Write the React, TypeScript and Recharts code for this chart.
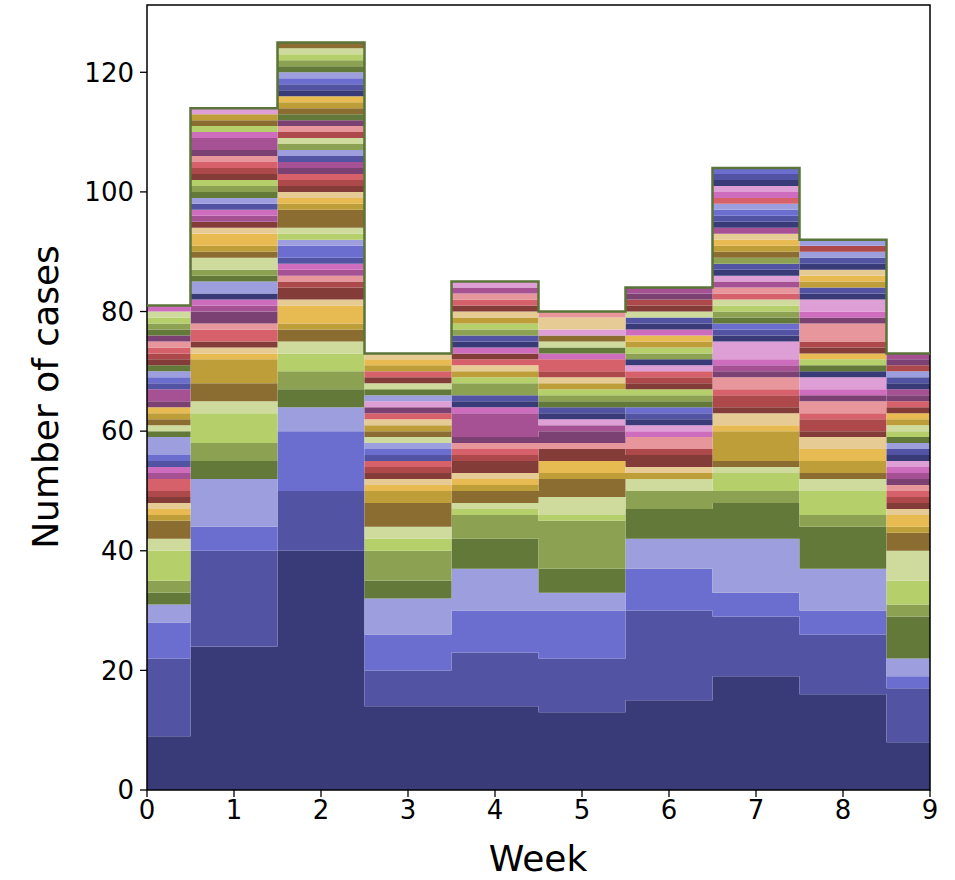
import React from "react";
import { ComposedChart, Area, Line, XAxis, YAxis, ReferenceArea } from "recharts";

// matplotlib tab20b, cycled over the stacked groups
const TAB20B = [
  "#393b79", "#5254a3", "#6b6ecf", "#9c9ede",
  "#637939", "#8ca252", "#b5cf6b", "#cedb9c",
  "#8c6d31", "#bd9e39", "#e7ba52", "#e7cb94",
  "#843c39", "#ad494a", "#d6616b", "#e7969c",
  "#7b4173", "#a55194", "#ce6dbd", "#de9ed6",
];

const WEEKS = [0, 1, 2, 3, 4, 5, 6, 7, 8, 9];
const Y_TICKS = [0, 20, 40, 60, 80, 100, 120];

// [group, cases] for each week, bottom to top
const week0: [number, number][] = [
  [0, 9], [1, 13], [2, 6], [3, 3], [4, 2], [5, 2], [6, 5], [7, 2], [8, 3], [9, 1],
  [10, 1], [11, 1], [12, 1], [13, 1], [14, 2], [17, 1], [18, 1], [21, 1], [22, 1], [23, 3],
  [24, 1], [27, 1], [28, 1], [29, 1], [30, 1], [36, 1], [37, 2], [41, 1], [42, 1], [43, 1],
  [44, 1], [52, 1], [53, 1], [54, 1], [55, 1], [56, 1], [64, 1], [65, 1], [66, 1], [67, 1],
  [78, 1],
];
const week1: [number, number][] = [
  [0, 24], [1, 16], [2, 4], [3, 8], [4, 3], [5, 3], [6, 5], [7, 2], [8, 3], [9, 4],
  [10, 1], [11, 1], [12, 1], [14, 2], [15, 1], [16, 2], [17, 1], [18, 1], [20, 1], [23, 2],
  [24, 1], [25, 1], [27, 2], [28, 1], [29, 1], [30, 2], [31, 1], [32, 1], [37, 1], [38, 1],
  [41, 1], [43, 1], [44, 1], [45, 1], [46, 1], [52, 1], [53, 1], [54, 1], [55, 1], [56, 1],
  [57, 2], [58, 1], [66, 1], [68, 1], [69, 1], [79, 1],
];
const week2: [number, number][] = [
  [0, 40], [1, 10], [2, 10], [3, 4], [4, 3], [5, 3], [6, 3], [7, 2], [8, 2], [9, 1],
  [10, 3], [11, 1], [12, 2], [13, 1], [15, 1], [17, 1], [18, 1], [21, 1], [22, 2], [23, 1],
  [26, 1], [27, 1], [28, 3], [29, 1], [30, 1], [31, 1], [32, 1], [33, 1], [34, 1], [36, 1],
  [37, 1], [41, 1], [43, 1], [45, 1], [47, 1], [53, 1], [55, 1], [56, 1], [64, 1], [68, 1],
  [69, 1], [70, 1], [80, 1], [81, 1], [82, 1], [83, 1], [84, 1], [85, 1], [86, 1], [87, 1],
  [88, 1],
];
const week3: [number, number][] = [
  [0, 14], [1, 6], [2, 6], [3, 6], [4, 3], [5, 5], [6, 2], [7, 2], [8, 4], [9, 2],
  [10, 1], [11, 1], [12, 1], [13, 1], [14, 1], [21, 1], [22, 1], [23, 1], [27, 1], [28, 1],
  [29, 1], [31, 1], [34, 1], [36, 1], [39, 1], [43, 1], [44, 1], [47, 1], [52, 1], [54, 1],
  [69, 1], [70, 1], [71, 1],
];
const week4: [number, number][] = [
  [0, 14], [1, 9], [2, 7], [3, 7], [4, 5], [5, 4], [6, 1], [7, 1], [8, 2], [9, 1],
  [10, 1], [11, 1], [12, 2], [13, 1], [14, 1], [15, 1], [16, 1], [17, 4], [18, 1], [20, 1],
  [21, 1], [25, 2], [26, 1], [29, 1], [31, 1], [34, 1], [52, 1], [58, 1], [60, 1], [61, 1],
  [65, 1], [66, 1], [69, 1], [71, 1], [72, 1], [74, 1], [75, 1], [77, 1], [79, 1],
];
const week5: [number, number][] = [
  [0, 13], [1, 9], [2, 8], [3, 3], [4, 4], [5, 8], [6, 1], [7, 3], [8, 3], [9, 1],
  [10, 2], [12, 2], [15, 1], [16, 2], [17, 1], [19, 1], [20, 1], [21, 1], [24, 1], [25, 1],
  [26, 1], [29, 1], [31, 1], [33, 1], [34, 2], [38, 1], [44, 1], [47, 1], [48, 1], [59, 1],
  [71, 2], [75, 1],
];
const week6: [number, number][] = [
  [0, 15], [1, 15], [2, 7], [3, 5], [4, 5], [5, 3], [7, 2], [9, 1], [11, 1], [12, 2],
  [13, 1], [15, 2], [18, 1], [19, 1], [20, 1], [21, 1], [22, 1], [24, 1], [25, 1], [26, 1],
  [32, 1], [33, 1], [34, 1], [39, 1], [40, 1], [45, 1], [46, 1], [49, 1], [50, 1], [58, 1],
  [60, 1], [61, 1], [67, 1], [72, 1], [73, 1], [76, 1], [77, 1],
];
const week7: [number, number][] = [
  [0, 19], [1, 10], [2, 4], [3, 9], [4, 6], [5, 2], [6, 3], [7, 1], [8, 1], [9, 5],
  [10, 1], [11, 2], [12, 1], [13, 2], [14, 1], [15, 2], [16, 1], [17, 1], [18, 1], [19, 3],
  [20, 1], [21, 1], [22, 1], [24, 1], [25, 1], [26, 1], [27, 1], [34, 1], [35, 1], [37, 1],
  [39, 1], [40, 1], [41, 1], [45, 1], [48, 1], [49, 1], [50, 1], [51, 1], [57, 1], [60, 1],
  [61, 1], [62, 1], [63, 1], [74, 1], [78, 1], [79, 1], [80, 1], [81, 1], [82, 1],
];
const week8: [number, number][] = [
  [0, 16], [1, 10], [2, 4], [3, 7], [4, 7], [5, 2], [6, 4], [7, 2], [8, 1], [9, 2],
  [10, 2], [11, 2], [12, 1], [13, 2], [14, 1], [15, 2], [16, 1], [18, 1], [19, 2], [20, 1],
  [24, 1], [26, 1], [30, 1], [32, 1], [33, 1], [35, 3], [36, 1], [38, 1], [39, 2], [40, 1],
  [41, 1], [49, 1], [50, 1], [51, 1], [60, 1], [61, 1], [63, 1], [73, 1], [83, 1],
];
const week9: [number, number][] = [
  [0, 8], [1, 9], [2, 2], [3, 3], [4, 7], [5, 2], [6, 4], [7, 5], [8, 3], [9, 1],
  [10, 2], [11, 1], [12, 1], [13, 1], [14, 1], [15, 1], [16, 1], [17, 1], [18, 1], [19, 1],
  [20, 1], [21, 1], [23, 1], [24, 1], [26, 1], [27, 1], [29, 1], [30, 1], [32, 1], [34, 1],
  [36, 1], [37, 1], [40, 1], [41, 1], [43, 1], [53, 1], [56, 1], [57, 1],
];

const WEEK_BANDS = [week0, week1, week2, week3, week4, week5, week6, week7, week8, week9];

const GROUP_COUNT = 1 + Math.max(...WEEK_BANDS.flat().map(([g]) => g));
const GROUPS = Array.from({ length: GROUP_COUNT }, (_, i) => i);

const data = WEEKS.map((week, i) => {
  const row: Record<string, number> = { week, total: 0 };
  GROUPS.forEach((g) => (row[`g${g}`] = 0));
  WEEK_BANDS[i].forEach(([g, n]) => {
    row[`g${g}`] += n;
    row.total += n;
  });
  return row;
});

const FONT = "'DejaVu Sans', sans-serif";
const tickStyle = { fill: "#000", fontSize: 26, fontFamily: FONT };

export default function App() {
  return (
    <div style={{ position: "absolute", left: 0, top: 0, width: 955, height: 880, background: "#fff" }}>
      <ComposedChart
        width={955}
        height={880}
        data={data}
        margin={{ top: 5, right: 25, bottom: 50, left: 77 }}
      >
        <XAxis
          dataKey="week"
          type="number"
          domain={[0, 9]}
          ticks={WEEKS}
          height={40}
          axisLine={false}
          tickLine={{ stroke: "#000", strokeWidth: 1.3 }}
          tickSize={7}
          tickMargin={4}
          tick={tickStyle}
          allowDataOverflow
        />
        <YAxis
          type="number"
          domain={[0, 131.25]}
          ticks={Y_TICKS}
          width={70}
          axisLine={false}
          tickLine={{ stroke: "#000", strokeWidth: 1.3 }}
          tickSize={7}
          tickMargin={6}
          tick={tickStyle}
          allowDataOverflow
        />
        {GROUPS.map((g) => (
          <Area
            key={g}
            dataKey={`g${g}`}
            stackId="cases"
            type="step"
            fill={TAB20B[g % 20]}
            fillOpacity={1}
            stroke="none"
            isAnimationActive={false}
          />
        ))}
        <Line
          dataKey="total"
          type="step"
          stroke="#5b7439"
          strokeWidth={2.5}
          dot={false}
          isAnimationActive={false}
        />
        <ReferenceArea
          x1={0}
          x2={9}
          y1={0}
          y2={131.25}
          fill="none"
          stroke="#000"
          strokeWidth={1.5}
        />
      </ComposedChart>
      <div
        style={{
          position: "absolute",
          left: 45,
          top: 397,
          transform: "translate(-50%, -50%) rotate(-90deg)",
          whiteSpace: "nowrap",
          fontSize: 36,
          fontFamily: FONT,
        }}
      >
        Number of cases
      </div>
      <div
        style={{
          position: "absolute",
          left: 538,
          top: 858,
          transform: "translate(-50%, -50%)",
          whiteSpace: "nowrap",
          fontSize: 36,
          fontFamily: FONT,
        }}
      >
        Week
      </div>
    </div>
  );
}
